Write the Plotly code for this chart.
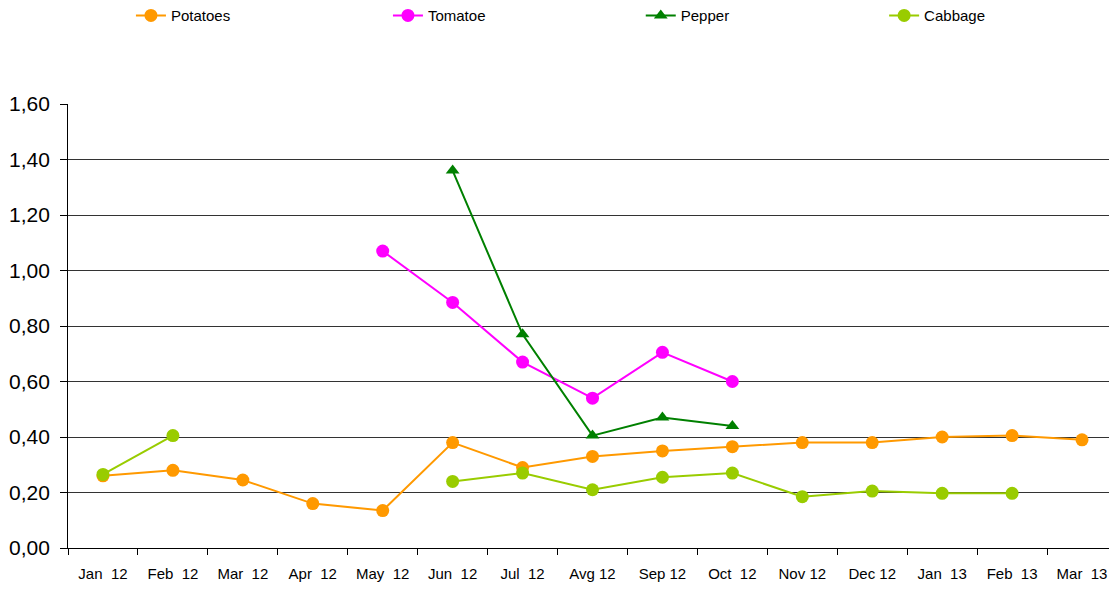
import plotly.graph_objects as go

NB = "\u00a0"
months = ["Jan  12", "Feb  12", "Mar  12", "Apr  12", "May  12", "Jun  12", "Jul  12",
          "Avg 12", "Sep 12", "Oct  12", "Nov 12", "Dec 12", "Jan  13", "Feb  13", "Mar  13"]
months = [m.replace(" ", NB) for m in months]

potatoes = [0.26, 0.28, 0.245, 0.16, 0.135, 0.38, 0.29, 0.33, 0.35, 0.365, 0.38, 0.38, 0.40, 0.405, 0.39]
tomatoe = [None, None, None, None, 1.07, 0.885, 0.67, 0.54, 0.705, 0.60, None, None, None, None, None]
pepper = [None, None, None, None, None, 1.36, 0.77, 0.405, 0.47, 0.44, None, None, None, None, None]
cabbage = [0.265, 0.405, None, None, None, 0.24, 0.27, 0.21, 0.255, 0.27, 0.185, 0.205, 0.197, 0.197, None]

series = [
    ("Potatoes", potatoes, "#FF9900", "circle", "legend"),
    ("Tomatoe", tomatoe, "#FF00FF", "circle", "legend2"),
    ("Pepper", pepper, "#008000", "triangle-up", "legend3"),
    ("Cabbage", cabbage, "#99CC00", "circle", "legend4"),
]

fig = go.Figure()
for name, vals, color, sym, leg in series:
    fig.add_trace(go.Scatter(
        x=months, y=vals, name=name, mode="lines+markers",
        line=dict(color=color, width=2),
        marker=dict(color=color, symbol=sym, size=13 if sym == "circle" else 12),
        connectgaps=False, legend=leg, showlegend=True,
    ))

font = "Liberation Sans Narrow, Arial Narrow, Liberation Sans, Arial, sans-serif"
leg_common = dict(orientation="h", yanchor="top", y=1.236, xanchor="left",
                  font=dict(family=font, size=15, color="#000"), bgcolor="rgba(0,0,0,0)")
fig.update_layout(
    width=1109, height=581,
    margin=dict(l=60, r=0, t=96, b=41, autoexpand=False),
    plot_bgcolor="white", paper_bgcolor="white",
    separators=",.",
    showlegend=True,
    font=dict(family=font, color="#000"),
    legend=dict(x=0.060, **leg_common),
    legend2=dict(x=0.305, **leg_common),
    legend3=dict(x=0.546, **leg_common),
    legend4=dict(x=0.778, **leg_common),
    xaxis=dict(type="category", range=[-0.5, 14.5], tickson="boundaries",
               ticks="outside", ticklen=6, tickcolor="#000", ticklabelstandoff=12,
               showline=True, linecolor="#000", linewidth=1, showgrid=False,
               tickfont=dict(family=font, size=15, color="#000")),
    yaxis=dict(range=[0, 1.6], dtick=0.2, tickformat=".2f", ticksuffix=NB,
               ticks="outside", ticklen=7, tickcolor="#000",
               showline=True, linecolor="#000", linewidth=1,
               showgrid=True, gridcolor="#333", gridwidth=1, zeroline=False,
               tickfont=dict(family=font, size=21, color="#000")),
)
fig.write_html("out.html")
